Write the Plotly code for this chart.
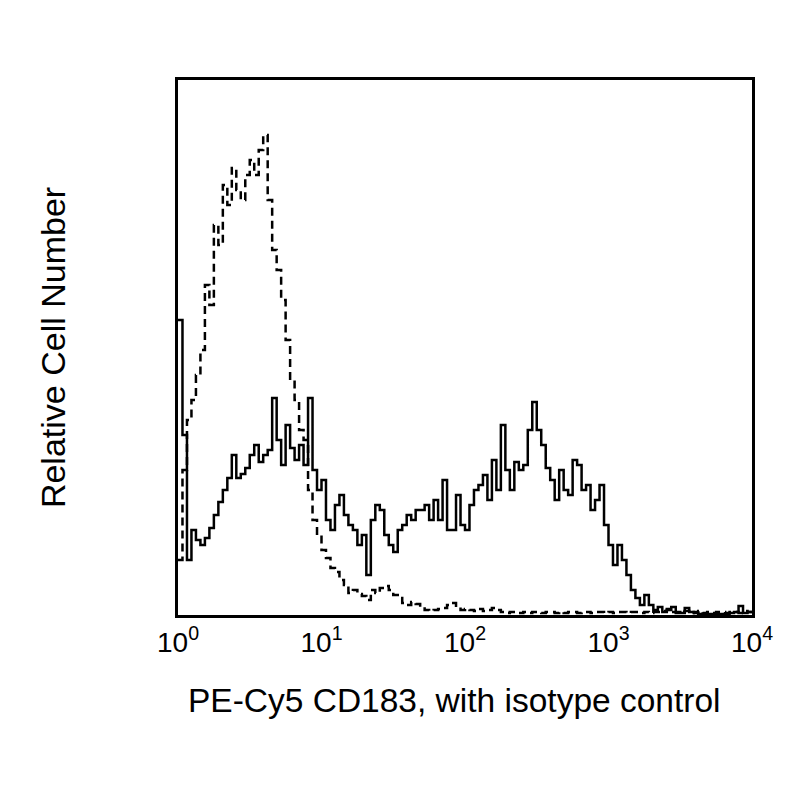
import plotly.graph_objects as go

# Histogram channel counts (binned to 128 log-spaced bins over 10^0..10^4)
cd183_counts = [295,180,55,85,75,70,77,87,100,113,
                125,137,160,137,141,147,160,170,153,160,
                165,217,175,150,190,167,155,170,150,217,
                145,125,135,95,85,110,120,100,90,85,
                70,80,40,95,110,105,80,70,63,85,
                90,100,95,105,105,110,95,115,95,135,
                85,85,120,90,85,110,125,130,140,115,
                155,125,190,145,125,153,145,150,185,213,
                185,170,147,135,115,145,125,120,155,150,
                125,130,105,115,130,90,70,50,70,55,
                40,25,17,10,20,10,5,8,3,5,
                8,3,2,7,3,2,1,1,1,1,
                1,1,1,2,3,9,2,3]

isotype_counts = [55,145,195,215,240,265,330,310,390,370,
                  430,410,447,425,415,440,455,440,465,480,
                  415,365,345,315,275,235,215,185,175,125,
                  95,80,65,57,47,43,35,30,22,25,
                  21,19,15,25,22,27,29,25,20,17,
                  12,10,13,11,8,5,4,5,6,7,
                  10,12,8,5,6,5,4,6,4,5,
                  7,5,
                  3,2,3,3,2,3,2,3,
                  3,2,3,3,2,3,2,3,
                  3,2,3,3,2,3,3,2,
                  3,2,3,3,2,3,3,2,
                  3,2,3,3,4,6,3,2,
                  3,4,2,3,4,2,3,2,
                  3,3,2,3,3,2,4,3]

decades = 4
tick_values = [1, 10, 100, 1000, 10000]
tick_labels = ["10<sup>0</sup>", "10<sup>1</sup>", "10<sup>2</sup>", "10<sup>3</sup>", "10<sup>4</sup>"]
x_title = "PE-Cy5 CD183, with isotype control"
y_title = "Relative Cell Number"


def step_xy(counts):
    n = len(counts)
    xs = [10 ** (decades * i / n) for i in range(n)] + [10 ** decades]
    ys = list(counts) + [counts[-1]]
    return xs, ys


fig = go.Figure()
xs, ys = step_xy(isotype_counts)
fig.add_trace(go.Scatter(x=xs, y=ys, mode="lines", line_shape="hv",
                         line=dict(color="black", width=2.5, dash="8px,5px"),
                         name="Isotype control", showlegend=False))
xs, ys = step_xy(cd183_counts)
fig.add_trace(go.Scatter(x=xs, y=ys, mode="lines", line_shape="hv",
                         line=dict(color="black", width=2.5),
                         name="CD183", showlegend=False))

font_family = "Liberation Sans, Arial, sans-serif"
fig.update_layout(
    width=800, height=800,
    margin=dict(l=170, r=56, t=72, b=193),
    paper_bgcolor="white", plot_bgcolor="white",
    font=dict(family=font_family, color="black"),
    xaxis=dict(type="log", range=[0, decades], tickvals=tick_values, ticktext=tick_labels,
               showgrid=False, zeroline=False, showline=True, mirror=True,
               linecolor="black", linewidth=3, ticks="",
               tickfont=dict(size=28, family=font_family, color="black")),
    yaxis=dict(range=[0, 535], showticklabels=False, showgrid=False, zeroline=False,
               showline=True, mirror=True, linecolor="black", linewidth=3, ticks="",
               title=dict(text=y_title, font=dict(size=34, family=font_family), standoff=100)),
    annotations=[dict(text=x_title, xref="paper", yref="paper", x=0.481, y=-0.159,
                      xanchor="center", yanchor="middle", showarrow=False,
                      font=dict(size=33.5, family=font_family, color="black"))],
)

fig.write_html("out.html")
